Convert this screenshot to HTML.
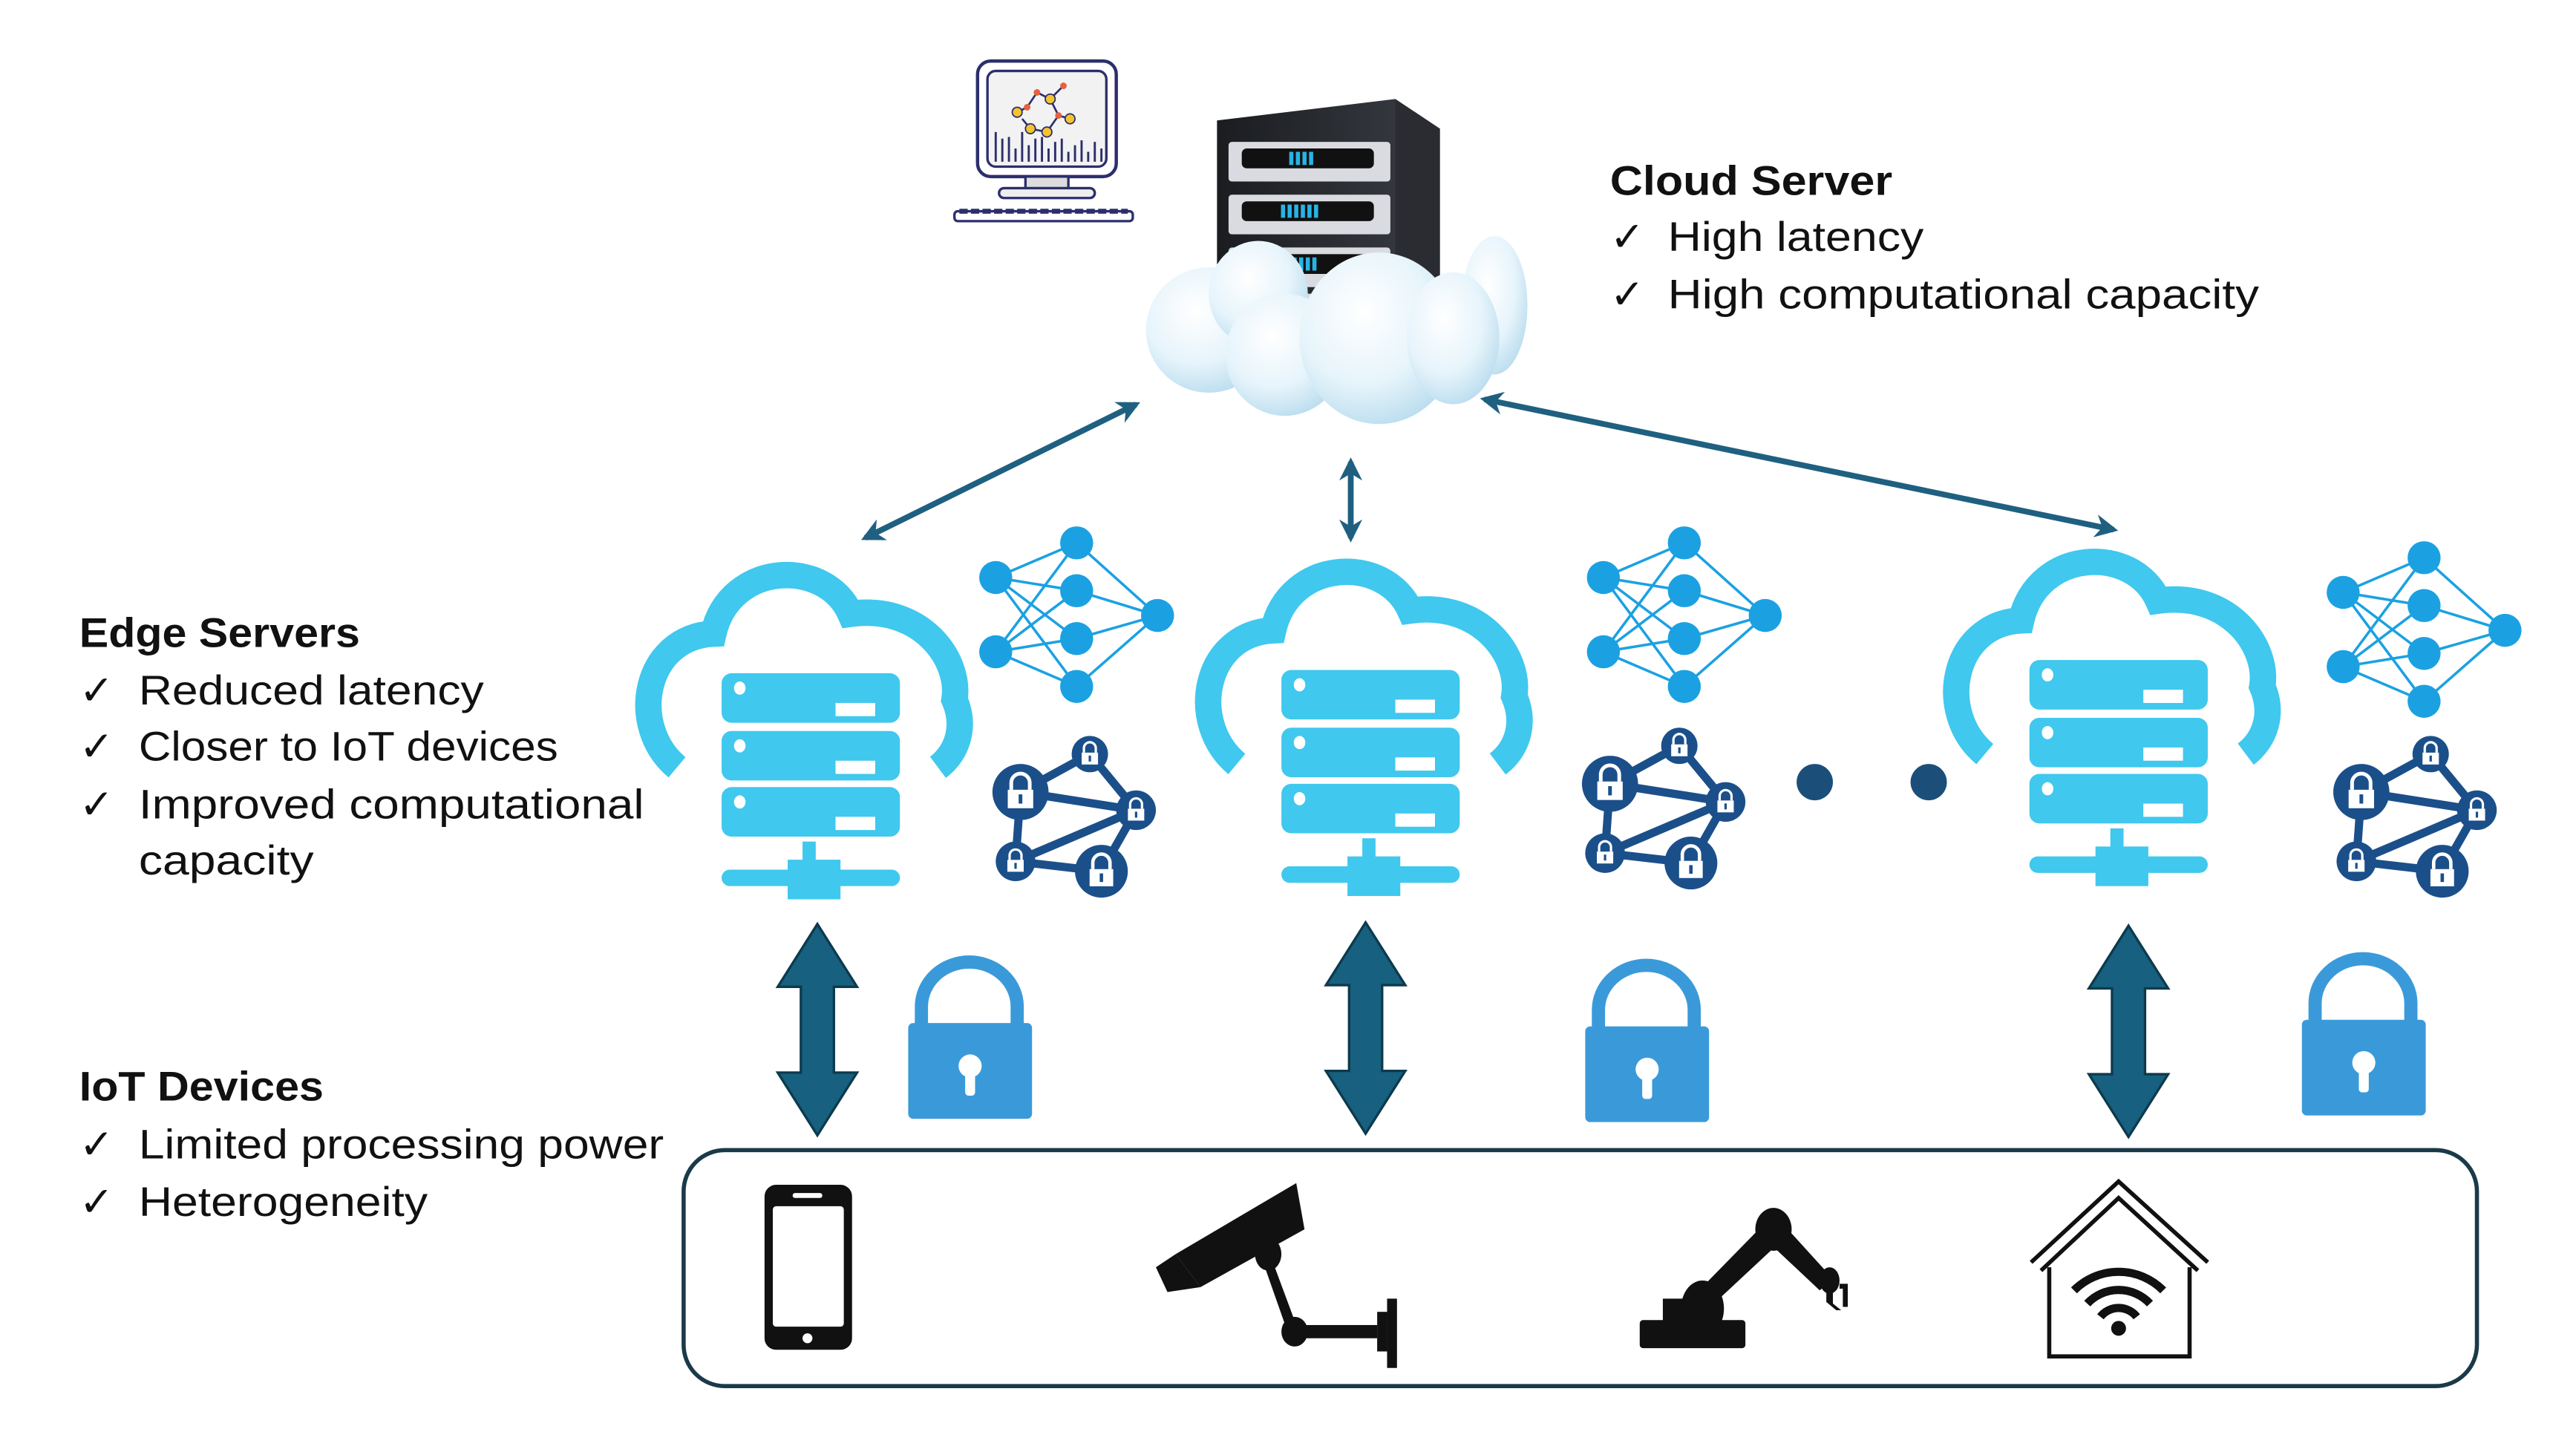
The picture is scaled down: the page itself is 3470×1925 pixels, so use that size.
<!DOCTYPE html>
<html><head><meta charset="utf-8"><style>
html,body{margin:0;padding:0;background:#fff;}
svg{display:block;}
text{font-family:"Liberation Sans","DejaVu Sans",sans-serif;fill:#111;}
</style></head><body>
<svg width="3470" height="1925" viewBox="0 0 1560 866" preserveAspectRatio="none" xmlns="http://www.w3.org/2000/svg">
<defs>
  <radialGradient id="cg" cx="0.4" cy="0.35" r="0.7">
    <stop offset="0" stop-color="#ffffff"/><stop offset="0.6" stop-color="#e6f4fb"/><stop offset="1" stop-color="#b9dcee"/>
  </radialGradient>
  <linearGradient id="rk" x1="0" x2="1"><stop offset="0" stop-color="#1a1c20"/><stop offset="1" stop-color="#3a3d44"/></linearGradient>
  <marker id="ah" viewBox="0 0 10 10" refX="8" refY="5" markerWidth="4" markerHeight="4" orient="auto-start-reverse">
    <path d="M0,0 L10,5 L0,10 L3,5 Z" fill="#1f6080"/>
  </marker>
  <g id="edge">
    <path d="M-80,465 C-110,440 -100,386 -58,384 C-48,340 10,338 25,372 C68,366 92,400 88,424 C95,440 90,456 78,465" fill="none" stroke="#40C8EE" stroke-width="16"/>
    <rect x="-53" y="408" width="108" height="30" rx="6" fill="#40C8EE"/>
    <rect x="-53" y="443" width="108" height="30" rx="6" fill="#40C8EE"/>
    <rect x="-53" y="477" width="108" height="30" rx="6" fill="#40C8EE"/>
    <g fill="#fff">
      <ellipse cx="-42" cy="417" rx="3.5" ry="4"/><rect x="16" y="426" width="24" height="8"/>
      <ellipse cx="-42" cy="452" rx="3.5" ry="4"/><rect x="16" y="461" width="24" height="8"/>
      <ellipse cx="-42" cy="486" rx="3.5" ry="4"/><rect x="16" y="495" width="24" height="8"/>
    </g>
    <rect x="-4" y="510" width="8" height="18" fill="#40C8EE"/>
    <rect x="-53" y="527" width="108" height="10" rx="5" fill="#40C8EE"/>
    <rect x="-13" y="521" width="32" height="24" fill="#40C8EE"/>
  </g>
  <g id="nn">
    <g stroke="#1BA1E2" stroke-width="1.6">
      <line x1="0" y1="30" x2="49" y2="9"/><line x1="0" y1="30" x2="49" y2="38"/><line x1="0" y1="30" x2="49" y2="67"/><line x1="0" y1="30" x2="49" y2="96"/>
      <line x1="0" y1="75" x2="49" y2="9"/><line x1="0" y1="75" x2="49" y2="38"/><line x1="0" y1="75" x2="49" y2="67"/><line x1="0" y1="75" x2="49" y2="96"/>
      <line x1="98" y1="53" x2="49" y2="9"/><line x1="98" y1="53" x2="49" y2="38"/><line x1="98" y1="53" x2="49" y2="67"/><line x1="98" y1="53" x2="49" y2="96"/>
    </g>
    <g fill="#1BA1E2">
      <circle cx="0" cy="30" r="10"/><circle cx="0" cy="75" r="10"/>
      <circle cx="49" cy="9" r="10"/><circle cx="49" cy="38" r="10"/><circle cx="49" cy="67" r="10"/><circle cx="49" cy="96" r="10"/>
      <circle cx="98" cy="53" r="10"/>
    </g>
  </g>
  <g id="lk">
    <path d="M-4,-1 v-3 a4,4 0 0 1 8,0 v3" fill="none" stroke="#fff" stroke-width="1.6"/>
    <rect x="-5.5" y="-1" width="11" height="8" fill="#fff"/>
    <rect x="-0.8" y="1" width="1.6" height="4" fill="#1B4F8A"/>
  </g>
  <g id="ln">
    <g stroke="#1B4F8A" stroke-width="5">
      <line x1="18" y1="33" x2="60" y2="10"/><line x1="18" y1="33" x2="88" y2="44"/><line x1="18" y1="33" x2="15" y2="75"/>
      <line x1="60" y1="10" x2="88" y2="44"/><line x1="15" y1="75" x2="88" y2="44"/><line x1="15" y1="75" x2="67" y2="81"/><line x1="88" y1="44" x2="67" y2="81"/>
    </g>
    <g fill="#1B4F8A">
      <circle cx="18" cy="33" r="17"/><circle cx="60" cy="10" r="11"/><circle cx="88" cy="44" r="12"/><circle cx="15" cy="75" r="12"/><circle cx="67" cy="81" r="16"/>
    </g>
    <use href="#lk" transform="translate(18,33) scale(1.4)"/>
    <use href="#lk" transform="translate(60,10) scale(0.9)"/>
    <use href="#lk" transform="translate(88,44) scale(0.9)"/>
    <use href="#lk" transform="translate(15,75) scale(0.9)"/>
    <use href="#lk" transform="translate(67,81) scale(1.3)"/>
  </g>
  <g id="darr">
    <path d="M0,0 L24,38 L10,38 L10,90 L24,90 L0,128 L-24,90 L-10,90 L-10,38 L-24,38 Z" fill="#17607F" stroke="#0d3a4d" stroke-width="1.5"/>
  </g>
  <g id="pad">
    <path d="M8,36 V22 A29,27 0 0 1 66,22 V36" fill="none" stroke="#3A9AD9" stroke-width="8"/>
    <rect x="0" y="32" width="75" height="58" rx="3" fill="#3A9AD9"/>
    <circle cx="37.5" cy="58" r="7" fill="#fff"/><rect x="34.5" y="60" width="6" height="16" rx="2" fill="#fff"/>
  </g>
</defs>

<!-- monitor -->
<g>
  <rect x="592" y="37" width="84" height="70" rx="8" fill="#fff" stroke="#2c2f6b" stroke-width="2"/>
  <rect x="598" y="43" width="72" height="58" rx="5" fill="#f2f2f2" stroke="#2c2f6b" stroke-width="1.5"/>
  <g stroke="#2c2f6b" stroke-width="1.2" fill="none"><path d="M616,68 L622,65 L628,56 L636,60 L641,70 L634,80 L624,78 L619,72 M636,60 L644,52 M641,70 L648,72"/></g>
  <g fill="#f4c430" stroke="#2c2f6b" stroke-width="0.8"><circle cx="616" cy="68" r="3"/><circle cx="636" cy="60" r="3"/><circle cx="624" cy="78" r="3"/><circle cx="634" cy="80" r="3"/><circle cx="648" cy="72" r="3"/></g>
  <g fill="#e8603c"><circle cx="628" cy="56" r="2"/><circle cx="622" cy="65" r="2"/><circle cx="641" cy="70" r="2"/><circle cx="644" cy="52" r="2"/></g>
  <g stroke="#2c2f6b" stroke-width="1.3"><path d="M603,98V80 M607,98V84 M611,98V83 M615,98V90 M619,98V80 M623,98V88 M627,98V84 M631,98V83 M635,98V90 M639,98V86 M643,98V84 M647,98V92 M651,98V88 M655,98V85 M659,98V92 M663,98V86 M667,98V90"/></g>
  <rect x="621" y="107" width="26" height="8" fill="#ddd" stroke="#2c2f6b" stroke-width="1.5"/>
  <rect x="605" y="114" width="58" height="6" rx="3" fill="#eee" stroke="#2c2f6b" stroke-width="1.5"/>
  <rect x="578" y="128" width="108" height="6" rx="2" fill="#fff" stroke="#2c2f6b" stroke-width="1.5"/>
  <path d="M581,128 h102" stroke="#2c2f6b" stroke-width="3" stroke-dasharray="5,2"/>
</g>

<!-- cloud server rack -->
<g>
  <path d="M737,73 L845,60 L872,78 L872,200 L737,200 Z" fill="url(#rk)"/>
  <path d="M845,60 L872,78 L872,200 L845,200 Z" fill="#2a2c31"/>
  <g fill="#d9dbe0">
    <rect x="744" y="86" width="98" height="24" rx="2"/>
    <rect x="744" y="118" width="98" height="24" rx="2"/>
    <rect x="744" y="150" width="98" height="24" rx="2"/>
    <rect x="744" y="178" width="98" height="20" rx="2"/>
  </g>
  <g fill="#111"><rect x="752" y="90" width="80" height="12" rx="3"/><rect x="752" y="122" width="80" height="12" rx="3"/><rect x="752" y="154" width="80" height="12" rx="3"/><rect x="752" y="181" width="80" height="10" rx="3"/></g>
  <g stroke="#27b4e4" stroke-width="2.5"><path d="M782,92v8 M786,92v8 M790,92v8 M794,92v8 M777,124v8 M781,124v8 M785,124v8 M789,124v8 M793,124v8 M797,124v8 M776,156v8 M780,156v8 M784,156v8 M788,156v8 M792,156v8 M796,156v8"/></g>
  <g fill="url(#cg)">
    <ellipse cx="905" cy="185" rx="20" ry="42"/>
    <ellipse cx="732" cy="200" rx="38" ry="38"/>
    <ellipse cx="762" cy="178" rx="30" ry="32"/>
    <ellipse cx="778" cy="215" rx="36" ry="37"/>
    <ellipse cx="835" cy="205" rx="48" ry="52"/>
    <ellipse cx="880" cy="205" rx="28" ry="40"/>
  </g>
</g>

<!-- labels -->
<text x="975" y="118" font-size="25" font-weight="bold" textLength="171" lengthAdjust="spacingAndGlyphs">Cloud Server</text>
<text x="975" y="152" font-size="25">✓</text><text x="1010" y="152" font-size="25" textLength="155" lengthAdjust="spacingAndGlyphs">High latency</text>
<text x="975" y="187" font-size="25">✓</text><text x="1010" y="187" font-size="25" textLength="358" lengthAdjust="spacingAndGlyphs">High computational capacity</text>

<text x="48" y="392" font-size="25" font-weight="bold" textLength="170" lengthAdjust="spacingAndGlyphs">Edge Servers</text>
<text x="48" y="427" font-size="25">✓</text><text x="84" y="427" font-size="25" textLength="209" lengthAdjust="spacingAndGlyphs">Reduced latency</text>
<text x="48" y="461" font-size="25">✓</text><text x="84" y="461" font-size="25" textLength="254" lengthAdjust="spacingAndGlyphs">Closer to IoT devices</text>
<text x="48" y="496" font-size="25">✓</text><text x="84" y="496" font-size="25" textLength="306" lengthAdjust="spacingAndGlyphs">Improved computational</text>
<text x="84" y="530" font-size="25" textLength="106" lengthAdjust="spacingAndGlyphs">capacity</text>

<text x="48" y="667" font-size="25" font-weight="bold" textLength="148" lengthAdjust="spacingAndGlyphs">IoT Devices</text>
<text x="48" y="702" font-size="25">✓</text><text x="84" y="702" font-size="25" textLength="318" lengthAdjust="spacingAndGlyphs">Limited processing power</text>
<text x="48" y="737" font-size="25">✓</text><text x="84" y="737" font-size="25" textLength="175" lengthAdjust="spacingAndGlyphs">Heterogeneity</text>

<!-- thin arrows -->
<g stroke="#1f6080" stroke-width="3.5" fill="none">
  <line x1="524" y1="326" x2="688" y2="245" marker-start="url(#ah)" marker-end="url(#ah)"/>
  <line x1="818" y1="280" x2="818" y2="326" marker-start="url(#ah)" marker-end="url(#ah)"/>
  <line x1="899" y1="242" x2="1280" y2="321" marker-start="url(#ah)" marker-end="url(#ah)"/>
</g>

<!-- edge servers -->
<use href="#edge" transform="translate(490,0)"/>
<use href="#edge" transform="translate(829,-2)"/>
<use href="#edge" transform="translate(1282,-8)"/>

<use href="#nn" transform="translate(603,320)"/>
<use href="#nn" transform="translate(971,320)"/>
<use href="#nn" transform="translate(1419,329)"/>

<use href="#ln" transform="translate(600,447)"/>
<use href="#ln" transform="translate(957,442)"/>
<use href="#ln" transform="translate(1412,447)"/>

<circle cx="1099" cy="474" r="11" fill="#1B4F7A"/>
<circle cx="1168" cy="474" r="11" fill="#1B4F7A"/>

<!-- big arrows -->
<use href="#darr" transform="translate(495,560)"/>
<use href="#darr" transform="translate(827,559)"/>
<use href="#darr" transform="translate(1289,561)"/>

<use href="#pad" transform="translate(550,588)"/>
<use href="#pad" transform="translate(960,590)"/>
<use href="#pad" transform="translate(1394,586)"/>

<!-- IoT box -->
<rect x="414" y="697" width="1086" height="143" rx="25" fill="#fff" stroke="#1a3a4a" stroke-width="2.5"/>

<!-- phone -->
<rect x="463" y="718" width="53" height="100" rx="7" fill="#111"/>
<rect x="468" y="731" width="43" height="73" rx="2" fill="#fff"/>
<rect x="480" y="723" width="18" height="3" rx="1.5" fill="#fff"/>
<circle cx="489" cy="811" r="3" fill="#fff"/>

<!-- camera -->
<g fill="#111">
  <path d="M785,717 L790,745 L727,780 L712,760 Z"/>
  <path d="M712,760 L727,780 L707,783 L700,768 Z"/>
  <ellipse cx="768" cy="760" rx="8" ry="10"/>
  <path d="M766,768 L772,768 L785,803 L779,805 Z"/>
  <ellipse cx="784" cy="807" rx="8" ry="9"/>
  <rect x="790" y="803" width="44" height="8"/>
  <rect x="834" y="795" width="6" height="24"/>
  <rect x="840" y="787" width="6" height="42"/>
</g>

<!-- robot arm -->
<g fill="#111">
  <rect x="993" y="800" width="64" height="17" rx="2"/>
  <rect x="1007" y="787" width="22" height="16"/>
  <ellipse cx="1031" cy="793" rx="13" ry="17"/>
  <path d="M1026,785 L1038,790 L1083,748 L1070,740 Z"/>
  <ellipse cx="1074" cy="745" rx="11" ry="13"/>
  <path d="M1068,750 L1080,742 L1110,775 L1102,782 Z"/>
  <ellipse cx="1108" cy="776" rx="6" ry="8"/>
  <path d="M1106,780 h4 v10 l5,4 h-3 l-6,-5 Z M1114,778 h5 v14 h-3 v-11 h-2 Z"/>
</g>

<!-- house -->
<g>
  <path d="M1230,765 L1283,716 L1337,765" fill="none" stroke="#111" stroke-width="2.5"/>
  <path d="M1236,770 L1283,726 L1331,770" fill="none" stroke="#111" stroke-width="2.5"/>
  <path d="M1241,768 V822 H1326 V768" fill="none" stroke="#111" stroke-width="2.5"/>
  <g fill="none" stroke="#111" stroke-width="5">
    <path d="M1256,782 A38,38 0 0 1 1310,782"/>
    <path d="M1264,790 A26,26 0 0 1 1302,790"/>
    <path d="M1272,798 A14,14 0 0 1 1294,798"/>
  </g>
  <circle cx="1283" cy="805" r="4.5" fill="#111"/>
</g>
</svg>
</body></html>
